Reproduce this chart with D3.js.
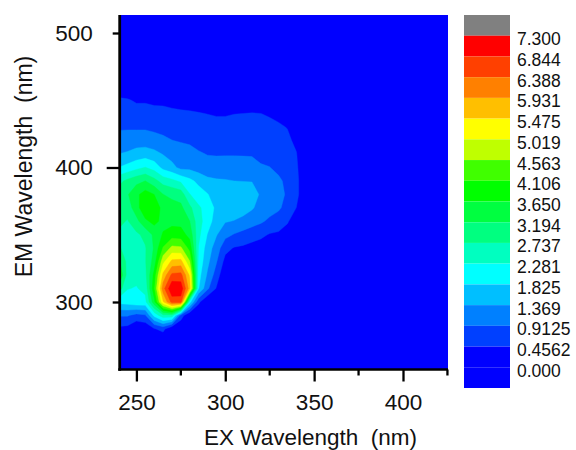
<!DOCTYPE html>
<html>
<head>
<meta charset="utf-8">
<script src="https://cdn.jsdelivr.net/npm/d3@7"></script>
<style>
  html, body { margin: 0; background: #fff; }
  text { font-family: "Liberation Sans", Arial, sans-serif; fill: #111; }
</style>
</head>
<body>
<svg id="graph" width="576" height="450" style="display:block"></svg>
<script>
var emWavelengths = [470,460,450,440,430,420,410,400,390,380,370,360,350,340,330,320,310,300,290,280,270]
var exWavelengths = [240,245,250,255,260,265,270,275,280,285,290,295,300,305,310,315,320,325,330,335,340,345]

// one row per EX wavelength, values run along emWavelengths
var intensity = [
  [0,.2,.52,.68,.85,1.1,1.37,1.83,2.6,2.95,3.0,2.85,2.65,2.8,3.3,3.75,3.0,1.95,.95,.35,0],
  [0,.1,.5,.7,.85,1.15,1.42,1.98,2.85,3.15,2.95,2.7,2.6,2.55,2.6,2.55,2.3,2.0,.95,.3,0],
  [0,.05,.4,.65,.85,1.15,1.55,2.15,3.05,3.55,3.45,3.05,2.65,2.55,2.5,2.4,2.25,2.15,.75,.05,0],
  [0,.05,.4,.65,.85,1.15,1.6,2.3,3.2,3.85,4.05,3.55,2.85,2.7,2.7,2.6,2.4,2.15,.85,.1,0],
  [0,.05,.35,.62,.8,1.1,1.5,2.1,2.9,3.65,4.05,3.8,3.3,3.25,3.4,3.8,4.0,3.5,1.95,.42,0],
  [0,.05,.35,.6,.78,1.0,1.35,1.7,2.55,3.2,3.45,3.5,3.7,4.15,4.9,5.6,6.2,5.4,2.6,.6,0],
  [0,.05,.32,.55,.75,.92,1.2,1.5,2.4,3.1,3.35,3.5,3.9,4.7,5.6,6.5,7.25,6.55,2.6,0,0],
  [0,.05,.3,.52,.72,.88,1.12,1.25,2.2,3.0,3.3,3.5,3.85,4.65,5.65,6.55,7.15,6.6,.7,0,0],
  [0,.05,.3,.5,.68,.85,1.05,1.25,1.95,2.3,2.85,3.2,3.5,3.95,4.6,5.4,5.7,2.0,0,0,0],
  [0,.03,.25,.48,.65,.8,.95,1.15,1.7,2.05,2.35,2.45,2.4,2.25,2.15,2.0,1.85,.55,0,0,0],
  [0,.02,.2,.45,.62,.78,.9,1.05,1.5,1.85,2.1,2.05,1.8,1.6,1.48,1.3,1.0,0,0,0,0],
  [0,.02,.18,.42,.6,.75,.88,1.1,1.42,1.6,1.72,1.6,1.4,1.15,.95,.7,.42,0,0,0,0],
  [0,.02,.18,.42,.6,.75,.88,1.12,1.4,1.6,1.65,1.4,1.05,.6,.3,.05,0,0,0,0,0],
  [0,.02,.2,.45,.6,.75,.88,1.12,1.37,1.58,1.6,1.35,.88,.42,.1,0,0,0,0,0,0],
  [0,.02,.22,.46,.6,.72,.88,1.1,1.36,1.6,1.55,1.25,.75,.38,.05,0,0,0,0,0,0],
  [0,.02,.25,.47,.6,.72,.88,1.05,1.35,1.6,1.42,1.1,.65,.3,0,0,0,0,0,0,0],
  [0,.02,.28,.46,.58,.7,.82,.95,1.15,1.3,1.2,.98,.55,.25,0,0,0,0,0,0,0],
  [0,.02,.2,.42,.55,.68,.8,.92,1.08,1.2,1.1,.82,.42,.2,0,0,0,0,0,0,0],
  [0,0,.1,.34,.52,.62,.72,.82,.98,1.05,.98,.7,.38,.12,0,0,0,0,0,0,0],
  [0,0,.02,.18,.44,.55,.62,.72,.82,.85,.75,.5,.25,.05,0,0,0,0,0,0,0],
  [0,0,0,.05,.2,.35,.48,.55,.62,.62,.45,.2,.05,0,0,0,0,0,0,0,0],
  [0,0,0,0,0,0,0,0,0,0,0,0,0,0,0,0,0,0,0,0,0]
]

var levels = [0.4562,0.9125,1.369,1.825,2.281,2.737,3.194,3.650,4.106,4.563,5.019,5.475,5.931,6.388,6.844,7.300]
var levelLabels = ['7.300','6.844','6.388','5.931','5.475','5.019','4.563','4.106','3.650','3.194','2.737','2.281','1.825','1.369','0.9125','0.4562','0.000']
var bandColors = ['#0040ff','#0080ff','#00bfff','#00ffff','#00ffc0','#00ff80','#00ff40','#00ff00','#40ff00','#bfff00','#ffff00','#ffbf00','#ff8000','#ff4000','#ff0000','#808080']
var baseColor = '#0000ff'

var xTicks = [250,300,350,400]
var xMinor = [275,325,375,425]
var yTicks = [300,400,500]

var svg = d3.select('#graph')
var plot = {left: 119.7, right: 448, top: 15, bottom: 369.5}

var x = d3.scaleLinear().domain([250, 400]).range([136.4, 403])
var y = d3.scaleLinear().domain([300, 500]).range([302, 33])

svg.append('clipPath').attr('id', 'plotClip')
  .append('rect')
  .attr('x', plot.left).attr('y', plot.top)
  .attr('width', plot.right - plot.left).attr('height', plot.bottom - plot.top)

var field = svg.append('g').attr('clip-path', 'url(#plotClip)')

field.append('rect')
  .attr('x', plot.left).attr('y', plot.top)
  .attr('width', plot.right - plot.left).attr('height', plot.bottom - plot.top)
  .attr('fill', baseColor)

// flatten for d3.contours: index 0 is top left
var nx = exWavelengths.length, ny = emWavelengths.length
var flat = []
for (var j = 0; j < ny; j++) for (var i = 0; i < nx; i++) flat.push(intensity[i][j])

var contours = d3.contours().size([nx, ny]).smooth(true).thresholds(levels)(flat)

// contour coordinates are cell based, point i sits at i + .5
var xGrid = d3.scaleLinear().domain([.5, nx - .5]).range([x(exWavelengths[0]), x(exWavelengths[nx - 1])])
var yGrid = d3.scaleLinear().domain([.5, ny - .5]).range([y(emWavelengths[0]), y(emWavelengths[ny - 1])])
var path = d3.geoPath(d3.geoTransform({
  point: function(a, b) { this.stream.point(xGrid(a), yGrid(b)) }
}))

field.selectAll('path').data(contours).join('path')
  .attr('d', path)
  .attr('fill', (d, i) => bandColors[i])
  .attr('stroke', (d, i) => bandColors[i])
  .attr('stroke-width', .4)

// axes
var xAxis = d3.axisBottom(x).tickValues(xTicks).tickSize(12).tickPadding(13).tickFormat(d3.format('d'))
var gx = svg.append('g').attr('transform', `translate(0,${plot.bottom})`).call(xAxis)
gx.select('.domain').remove()
gx.selectAll('line').attr('stroke', '#000').attr('stroke-width', 2.3)
gx.selectAll('text').attr('font-size', 22.5).style('font-family', '"Liberation Sans"')

gx.selectAll('.minor').data(xMinor).join('line').attr('class', 'minor')
  .attr('x1', d => x(d)).attr('x2', d => x(d))
  .attr('y1', 0).attr('y2', 6)
  .attr('stroke', '#000').attr('stroke-width', 2.3)

var yAxis = d3.axisLeft(y).tickValues(yTicks).tickSize(7).tickPadding(20).tickFormat(d3.format('d'))
var gy = svg.append('g').attr('transform', `translate(${plot.left},0)`).call(yAxis)
gy.select('.domain').remove()
gy.selectAll('line').attr('stroke', '#000').attr('stroke-width', 2.3)
gy.selectAll('text').attr('font-size', 22.5).style('font-family', '"Liberation Sans"')
// the 400 tick runs longer in the original
gy.selectAll('.tick').filter(d => d == 400).select('line').attr('x2', -13)

svg.append('line').attr('x1', plot.left).attr('x2', plot.left).attr('y1', plot.top).attr('y2', plot.bottom + 1.2)
  .attr('stroke', '#000').attr('stroke-width', 2.8)
svg.append('line').attr('x1', plot.left - 1.4).attr('x2', plot.right).attr('y1', plot.bottom).attr('y2', plot.bottom)
  .attr('stroke', '#000').attr('stroke-width', 2.4)

svg.append('text').attr('x', 310.5).attr('y', 445).attr('text-anchor', 'middle')
  .attr('font-size', 22.5).style('white-space', 'pre')
  .text('EX Wavelength  (nm)')
svg.append('text').attr('transform', 'translate(32,166.5) rotate(-90)').attr('text-anchor', 'middle')
  .attr('font-size', 23).style('white-space', 'pre')
  .text('EM Wavelength  (nm)')

// colour key: gray on top, then one row per band, two blue rows at the bottom
var legendColors = bandColors.slice().reverse().concat([baseColor, baseColor])
var legendY = d3.scaleLinear().domain([0, legendColors.length]).range([15, 388])

svg.selectAll('.key').data(legendColors).join('rect').attr('class', 'key')
  .attr('x', 464).attr('width', 46)
  .attr('y', (d, i) => legendY(i))
  .attr('height', (d, i) => legendY(i + 1) - legendY(i))
  .attr('fill', d => d)

svg.selectAll('.keyLabel').data(levelLabels).join('text').attr('class', 'keyLabel')
  .attr('x', 517)
  .attr('y', (d, i) => legendY(i + 1) + 9.5)
  .attr('font-size', 17.5)
  .text(d => d)
</script>
</body>
</html>
